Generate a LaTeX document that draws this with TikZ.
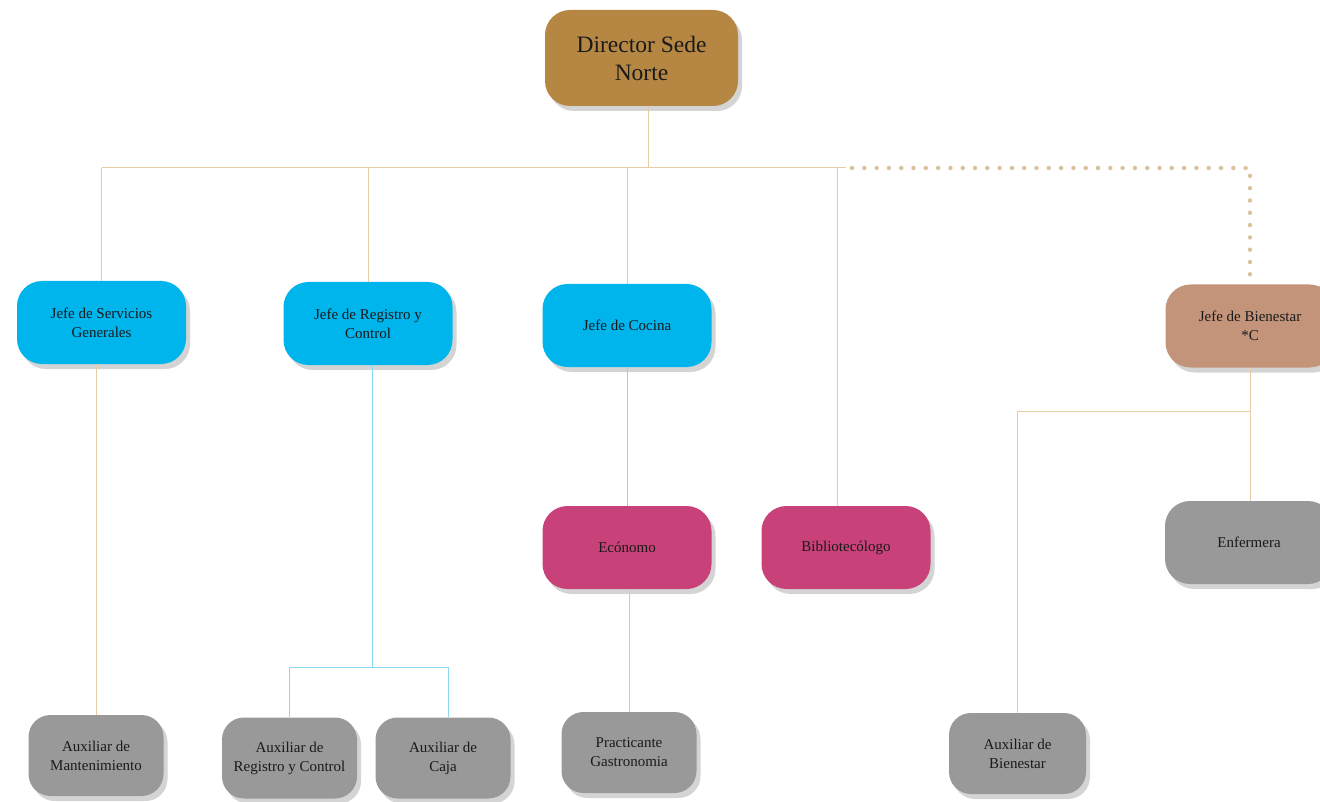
\documentclass[tikz,border=0pt]{standalone}
\usepackage{fontspec}
\setmainfont{Liberation Serif}
\usetikzlibrary{shadows}
\definecolor{dirbrown}{RGB}{181,135,66}
\definecolor{jefeblue}{RGB}{0,180,236}
\definecolor{magbox}{RGB}{200,65,120}
\definecolor{grisbox}{RGB}{153,153,153}
\definecolor{bienbox}{RGB}{195,148,122}
\definecolor{sombra}{RGB}{212,212,212}
\definecolor{tanline}{RGB}{230,205,165}
\definecolor{blueline}{RGB}{140,215,240}
\definecolor{pinkline}{RGB}{242,180,202}
\definecolor{dotcol}{RGB}{218,195,155}
\definecolor{texto}{RGB}{26,26,26}
\tikzset{
	cargo/.style={rounded corners=25pt, minimum width=169pt, minimum height=83pt, inner sep=0pt,
		align=center, text=texto, font=\fontsize{15}{19}\selectfont,
		drop shadow={shadow xshift=4pt, shadow yshift=-5pt, fill=sombra, opacity=1}},
	jefe/.style={cargo, fill=jefeblue},
	mag/.style={cargo, fill=magbox},
	aux/.style={cargo, fill=grisbox, minimum width=135pt, minimum height=81pt, rounded corners=22pt},
	tan/.style={draw=tanline, line width=1pt},
	blu/.style={draw=blueline, line width=1pt},
	pnk/.style={draw=pinkline, line width=1pt},
	puntos/.style={draw=dotcol, line width=4.4pt, line cap=round, dash pattern=on 0pt off 12.3pt}
}
\begin{document}
\begin{tikzpicture}[x=1pt, y=-1pt]
	\useasboundingbox (0,0) rectangle (1320,802);
	% boxes
	\node [cargo, fill=dirbrown, minimum width=193pt, minimum height=96pt, font=\fontsize{23.5}{28}\selectfont] (dir) at (641.5,58) {Director Sede\\Norte};
	\node [jefe] (jsg) at (101.5,322.5) {Jefe de Servicios\\Generales};
	\node [jefe] (jrc) at (368,323.5) {Jefe de Registro y\\Control};
	\node [jefe] (jc)  at (627,325.5) {Jefe de Cocina};
	\node [cargo, fill=bienbox] (jb) at (1250,326) {Jefe de Bienestar\\*C};
	\node [mag] (eco)  at (627,547.5) {Ecónomo};
	\node [mag] (bibl) at (846,547.5) {Bibliotecólogo};
	\node [aux, minimum width=168pt, minimum height=83pt, rounded corners=25pt] (enf) at (1249,542.5) {Enfermera};
	\node [aux] (am)   at (96,755.5)  {Auxiliar de\\Mantenimiento};
	\node [aux] (arc)  at (289.5,758) {Auxiliar de\\Registro y Control};
	\node [aux] (caja) at (443,758)   {Auxiliar de\\Caja};
	\node [aux] (pg)   at (629,752.5) {Practicante\\Gastronomia};
	\node [aux, minimum width=137pt] (ab) at (1017.5,753.5) {Auxiliar de\\Bienestar};
	% connectors
	\coordinate (top)  at (648,168);
	\coordinate (busR) at (846,168);
	\coordinate (bib)  at (837,168);
	\coordinate (reg)  at (372,667);
	\coordinate (cja)  at (448,667);
	\coordinate (bien) at (1250,411);
	\draw [tan] (top |- dir.south) -- (top);
	\draw [tan] (jsg.north |- top) -- (busR);
	\foreach \n in {jsg, jrc, jc} {
		\draw [tan] (\n.north |- top) -- (\n.north);
	}
	\draw [tan] (bib) -- (bib |- bibl.north);
	\draw [puntos] ([xshift=6pt]busR) -- (busR -| jb.north) -- ([yshift=4pt]jb.north);
	\draw [tan] (am.north |- jsg.south) -- (am.north);
	\draw [blu] (reg |- jrc.south) -- (reg);
	\draw [blu] (arc.north) -- (arc.north |- reg) -- (cja) -- (cja |- caja.north);
	\draw [blu] (jc.south) -- (eco.north);
	\draw [pnk] (pg.north |- eco.south) -- (pg.north);
	\draw [tan] (jb.south) -- (jb.south |- enf.north);
	\draw [tan] (bien) -- (bien -| ab.north) -- (ab.north);
\end{tikzpicture}
\end{document}
